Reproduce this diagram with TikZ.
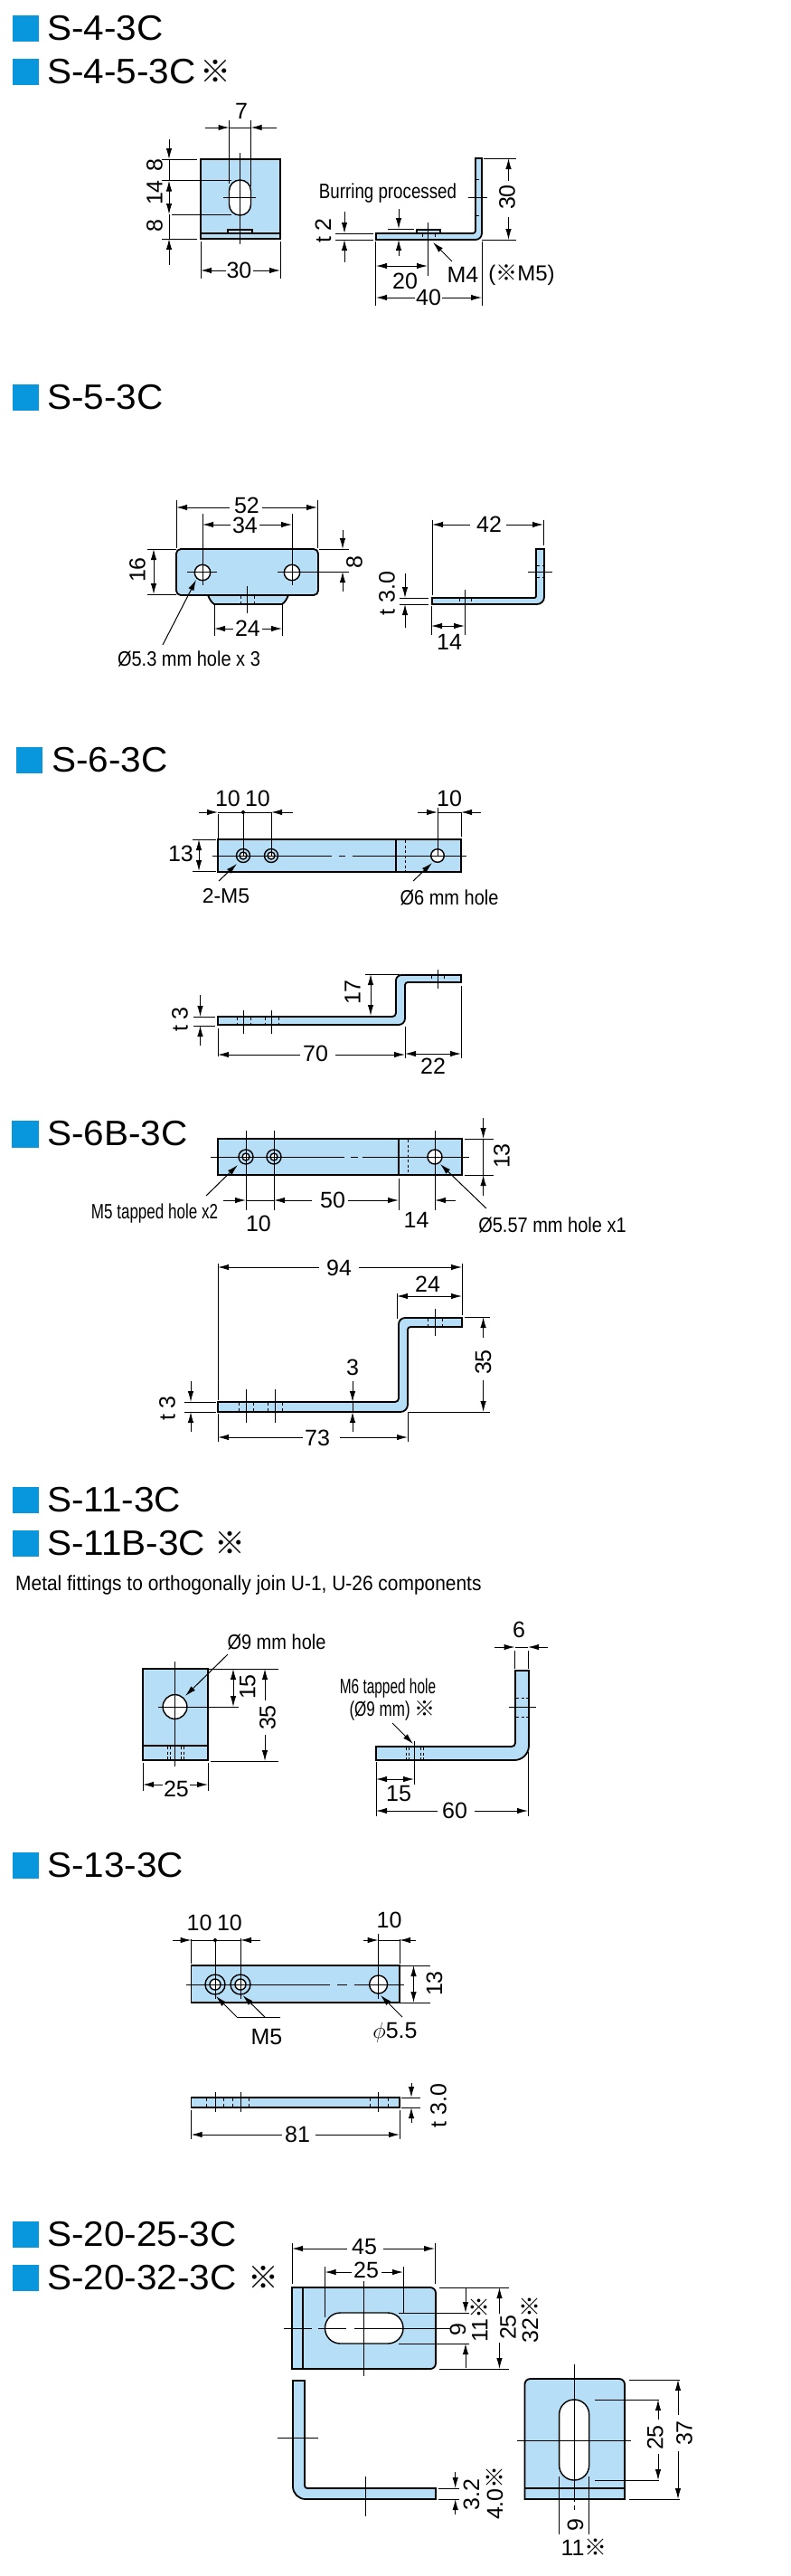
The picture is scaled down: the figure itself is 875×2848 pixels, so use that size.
\documentclass[tikz,border=0pt]{standalone}
\usepackage{fontspec}
\usetikzlibrary{arrows.meta}
\setmainfont{Liberation Sans}
\newfontfamily\headfont[FakeStretch=1.04]{Liberation Sans}
\newfontfamily\condfont[FakeStretch=0.87]{Liberation Sans}
\newfontfamily\burrfont[FakeStretch=0.815]{Liberation Sans}
\newfontfamily\tapfont[FakeStretch=0.74]{Liberation Sans}
\newfontfamily\sixfont[FakeStretch=0.67]{Liberation Sans}
\newfontfamily\wordfont[FakeStretch=0.91]{Liberation Sans}
\newfontfamily\kome{Noto Sans CJK SC}
\definecolor{headblue}{RGB}{8,150,220}
\definecolor{plateblue}{RGB}{182,222,246}
\tikzset{
  part/.style={draw=black, line width=1.8pt, fill=plateblue},
  hole/.style={draw=black, line width=1.4pt, fill=white},
  dim/.style={line width=1pt},
  hid/.style={line width=1pt, dash pattern=on 3pt off 2.5pt},
  headbox/.style={fill=headblue, draw=none},
  heading/.style={anchor=west, inner sep=0pt, font=\headfont\fontsize{39}{39}\selectfont},
  headmark/.style={inner sep=0pt, font=\kome\fontsize{34}{34}\selectfont},
  dimtext/.style={inner sep=0pt, font=\fontsize{25}{25}\selectfont},
  dimrot/.style={dimtext, rotate=90},
  note/.style={inner sep=0pt, font=\condfont\fontsize{23}{25}\selectfont, align=center},
  >={Latex[length=12pt,width=6.5pt]}
}
\begin{document}
\begin{tikzpicture}[x=1pt, y=-1pt]
\useasboundingbox (0,0) rectangle (875,2848);
\fill[white] (0,0) rectangle (875,2848);
% S-4-3C, S-4-5-3C
\fill[headbox] (13.5,16.7) rectangle (42.7,46);
\fill[headbox] (13.5,64.7) rectangle (42.7,94);
\node[heading] (ta) at (52,31) {S-4-3C};
\node[heading] (tb) at (52,79) {S-4-5-3C};
\node[headmark] (tbm) at (238,79) {※};
\draw[part] (222,176) rectangle (310,264);
\draw[part] (222,258) -- (310,258);
\draw[part] (252,254) rectangle (279,258);
\draw[hole, rounded corners=11.9pt] (253.5,199) rectangle (277.5,238);
\draw[dim] (265,169) -- (265,270);
\draw[dim] (247,218) -- (283,218);
\draw[dim] (253.5,133) -- (253.5,203);
\draw[dim] (277.5,133) -- (277.5,206);
\draw[dim,->] (227,141) -- (253.5,141);
\draw[dim,->] (306,141) -- (277.5,141);
\draw[dim] (253.5,141) -- (277.5,141);
\node[dimtext] (a7) at (267,123) {7};
\draw[dim] (179,176) -- (218,176);
\draw[dim] (179,199.5) -- (256,199.5);
\draw[dim] (190,237) -- (256,237);
\draw[dim] (179,264) -- (218,264);
\draw[dim,->] (187,154) -- (187,176);
\draw[dim,<->] (187,199.5) -- (187,237);
\draw[dim,->] (187,293) -- (187,264);
\draw[dim] (187,176) -- (187,199);
\draw[dim] (187,237) -- (187,264);
\node[dimrot] (a8) at (171,183) {8};
\node[dimrot] (a14) at (171,213) {14};
\node[dimrot] (a8b) at (171,250) {8};
\draw[dim] (222,267) -- (222,308);
\draw[dim] (310,267) -- (310,308);
\node[dimtext] (a30) at (264.5,299) {30};
\draw[dim,->] (a30) ++(-15,0) -- (222,299);
\draw[dim,->] (a30) ++(15,0) -- (310,299);
% side view
\draw[part] (461,254) rectangle (487,258);
\draw[part] (416,258) [rounded corners=3pt] -- (526,258) [sharp corners] -- (526,175) -- (533,175) [rounded corners=7pt] -- (533,265) [sharp corners] -- (416,265) -- cycle;
\draw[dim] (518,218) -- (539,218);
\draw[hid] (527,198) -- (532,198);
\draw[hid] (527,238) -- (532,238);
\draw[dim] (473,246) -- (473,305);
\draw[hid] (467,259) -- (467,264);
\draw[hid] (481,259) -- (481,264);
\draw[dim] (415,267) -- (415,338);
\draw[dim] (533,267) -- (533,338);
\draw[dim,<->] (416,294) -- (473,294);
\node[dimtext] (a20) at (448,311) {20};
\node[dimtext] (a40) at (474,329) {40};
\draw[dim,->] (a40) ++(-15,0) -- (416,329);
\draw[dim,->] (a40) ++(15,0) -- (533,329);
\draw[dim] (535,175) -- (571,175);
\draw[dim] (533,265) -- (571,265);
\node[dimrot] (a30b) at (561,218) {30};
\draw[dim,->] (562.5,200) -- (562.5,175);
\draw[dim,->] (562.5,240) -- (562.5,265);
\draw[dim] (371,258) -- (413,258);
\draw[dim] (371,265) -- (413,265);
\draw[dim,->] (381,234) -- (381,258);
\draw[dim,->] (381,290) -- (381,265);
\node[dimrot] (at2) at (357.5,255) {t 2};
\draw[dim] (429,253) -- (458,253);
\draw[dim,->] (441,231) -- (441,253);
\draw[dim,->] (441,283) -- (441,265);
\node[note, font=\burrfont\fontsize{23}{25}\selectfont] (aburr) at (429,214) {Burring processed};
\draw[dim,->] (500,289) -- (479,268);
\node[dimtext] (am4) at (512,304) {M4};
\node[dimtext, font=\fontsize{24}{24}\selectfont] (am5) at (577,304) {({\kome ※}M5)};
% S-5-3C
\fill[headbox] (13.5,424.7) rectangle (42.7,454);
\node[heading] (tc) at (52,439) {S-5-3C};
\draw[part] (230,658) .. controls (232,663) and (234,666) .. (237,668) -- (312,668) .. controls (315,666) and (317,663) .. (319,658) -- cycle;
\draw[part, rounded corners=5pt] (195,607) rectangle (352,658);
\draw[hole] (224,633) circle (8.7);
\draw[hole] (323,633) circle (8.7);
\draw[dim] (207,632) -- (240,632);
\draw[dim] (307,632) -- (340,632);
\draw[dim] (224,568) -- (224,647);
\draw[dim] (323,568) -- (323,647);
\draw[dim] (195,553) -- (195,606);
\draw[dim] (351,553) -- (351,606);
\node[dimtext] (b52) at (273,559) {52};
\draw[dim,->] (b52) ++(-19,2) -- (195,561);
\draw[dim,->] (b52) ++(17,2) -- (351,561);
\node[dimtext] (b34) at (271,581) {34};
\draw[dim,->] (b34) ++(-16,-1) -- (224,580);
\draw[dim,->] (b34) ++(16,-1) -- (323,580);
\draw[dim] (353,607) -- (386,607);
\draw[dim] (340,632) -- (386,632);
\draw[dim,->] (379,586) -- (379,607);
\draw[dim,->] (379,654) -- (379,632);
\node[dimrot] (b8) at (392,622) {8};
\draw[dim] (163,607) -- (195,607);
\draw[dim] (163,657) -- (195,657);
\draw[dim,<->] (170,607) -- (170,657);
\node[dimrot] (b16) at (152,630) {16};
\draw[dim] (237,668) -- (237,703);
\draw[dim] (312,668) -- (312,703);
\node[dimtext] (b24) at (274,695) {24};
\draw[dim,->] (b24) ++(-16,0) -- (237,695);
\draw[dim,->] (b24) ++(16,0) -- (312,695);
\draw[dim] (273,648) -- (273,678);
\draw[hid] (266.5,659) -- (266.5,667);
\draw[hid] (281,659) -- (281,667);
\draw[dim,->] (180,713) -- (217,641);
\node[note] (bhole) at (209,728) {Ø5.3 mm hole x 3};
% side view
\draw[part] (478,661) [rounded corners=2pt] -- (593,661) [sharp corners] -- (593,607) -- (602,607) [rounded corners=8pt] -- (602,668) [sharp corners] -- (478,668) -- cycle;
\draw[dim] (478,575) -- (478,658);
\draw[dim] (601,575) -- (601,603);
\node[dimtext] (b42) at (541,580) {42};
\draw[dim,->] (b42) ++(-21,0) -- (478,580);
\draw[dim,->] (b42) ++(19,0) -- (601,580);
\draw[dim] (584,632) -- (611,632);
\draw[hid] (594,625) -- (601,625);
\draw[hid] (594,638) -- (601,638);
\draw[dim] (514,652) -- (514,702);
\draw[dim] (477,670) -- (477,702);
\draw[hid] (508,662) -- (508,667);
\draw[hid] (521,662) -- (521,667);
\draw[dim,<->] (477,692) -- (514,692);
\node[dimtext] (b14) at (497,710) {14};
\draw[dim] (442,661) -- (474,661);
\draw[dim] (442,668) -- (474,668);
\draw[dim,->] (448,634) -- (448,661);
\draw[dim,->] (448,694) -- (448,668);
\node[dimrot] (bt3) at (428,656) {t 3.0};
% S-6-3C
\fill[headbox] (17.6,826) rectangle (46.7,855);
\node[heading] (td) at (57,840) {S-6-3C};
\draw[part] (241,928) rectangle (510,964);
\draw[part] (438,928) -- (438,964);
\draw[hid] (448,929) -- (448,963);
\draw[hole, fill=plateblue] (269,946) circle (7.5);
\draw[hole, fill=white] (269,946) circle (4);
\draw[hole, fill=plateblue] (300,946) circle (7.5);
\draw[hole, fill=white] (300,946) circle (4);
\draw[hole] (484,946) circle (7.3);
\draw[dim] (234.5,946) -- (367,946) (375,946) -- (382,946) (389.5,946) -- (516,946);
\draw[dim] (241,900) -- (241,928);
\draw[dim] (269,898) -- (269,946);
\draw[dim] (300,898) -- (300,946);
\draw[dim,->] (220,898) -- (241,898);
\draw[dim,->] (324,898) -- (300,898);
\draw[dim] (241,898) -- (300,898);
\fill (269,898) circle (2);
\node[dimtext] (d10a) at (252,883) {10};
\node[dimtext] (d10b) at (285,883) {10};
\draw[dim] (484,893) -- (484,946);
\draw[dim] (510,898) -- (510,925);
\draw[dim,->] (462,898) -- (484,898);
\draw[dim,->] (532,898) -- (510,898);
\draw[dim] (484,898) -- (510,898);
\node[dimtext] (d10c) at (497,883) {10};
\draw[dim] (213,928) -- (239,928);
\draw[dim] (213,963) -- (239,963);
\draw[dim,<->] (220,928) -- (220,963);
\node[dimtext] (d13) at (200,944) {13};
\draw[dim,->] (242,974) -- (262,955);
\node[dimtext, font=\fontsize{23}{23}\selectfont] (dm5) at (250,991) {2-M5};
\draw[dim,->] (457,974) -- (478,954);
\node[note] (dhole) at (497,992) {Ø6 mm hole};
% side view
\draw[part] (241,1124) [rounded corners=4pt] -- (438,1124) [rounded corners=6pt] -- (438,1078) [sharp corners] -- (510,1078) -- (510,1086) [rounded corners=3pt] -- (448,1086) [rounded corners=7pt] -- (448,1133) [sharp corners] -- (241,1133) -- cycle;
\draw[dim] (269,1117) -- (269,1143);
\draw[dim] (300,1117) -- (300,1143);
\foreach \hx in {262,277,293,308} {
  \draw[hid] (\hx,1125) -- (\hx,1132);
}
\draw[dim] (484,1072) -- (484,1093);
\draw[hid] (477,1079) -- (477,1085);
\draw[hid] (491,1079) -- (491,1085);
\draw[dim] (404,1077) -- (442,1077);
\draw[dim,<->] (410,1077) -- (410,1123);
\node[dimrot] (d17) at (390,1097) {17};
\draw[dim] (214,1124) -- (238,1124);
\draw[dim] (214,1134) -- (238,1134);
\draw[dim,->] (221.5,1100) -- (221.5,1124);
\draw[dim,->] (221.5,1156) -- (221.5,1134);
\node[dimrot] (dt3) at (199,1127) {t 3};
\draw[dim] (241,1137) -- (241,1168);
\draw[dim] (448,1135) -- (448,1170);
\draw[dim] (510,1090) -- (510,1170);
\node[dimtext] (d70) at (349,1165) {70};
\draw[dim,->] (332,1166) -- (241,1166);
\draw[dim,->] (371,1166) -- (448,1166);
\draw[dim,<->] (448,1165) -- (510,1165);
\node[dimtext] (d22) at (479,1179) {22};
% S-6B-3C
\fill[headbox] (13.4,1239) rectangle (43,1269);
\node[heading] (te) at (52,1253) {S-6B-3C};
\draw[part] (241,1259) rectangle (511,1299);
\draw[part] (441,1259) -- (441,1299);
\draw[hid] (451,1260) -- (451,1298);
\draw[hole, fill=plateblue] (272,1279) circle (8);
\draw[hole, fill=white] (272,1279) circle (4);
\draw[hole, fill=plateblue] (303,1279) circle (8);
\draw[hole, fill=white] (303,1279) circle (4);
\draw[hole] (481,1279) circle (8);
\draw[dim] (233,1279) -- (381,1279) (388,1279) -- (396,1279) (400.5,1279) -- (519,1279);
\draw[dim] (272,1250) -- (272,1338);
\draw[dim] (303,1250) -- (303,1338);
\draw[dim] (481,1250) -- (481,1338);
\draw[dim] (514,1259) -- (546,1259);
\draw[dim] (514,1299) -- (546,1299);
\draw[dim,->] (534.6,1236) -- (534.6,1259);
\draw[dim,->] (534.6,1322) -- (534.6,1299);
\draw[dim] (534.6,1259) -- (534.6,1299);
\node[dimrot] (e13) at (555,1278) {13};
\draw[dim,->] (247,1327) -- (272,1327);
\draw[dim,->] (345,1327) -- (303,1327);
\draw[dim] (272,1327) -- (303,1327);
\node[dimtext] (e50) at (368,1327) {50};
\draw[dim,->] (385,1327) -- (441,1327);
\draw[dim] (441,1303) -- (441,1338);
\draw[dim,->] (504,1327) -- (481,1327);
\node[dimtext] (e10) at (286,1353) {10};
\node[dimtext] (e14) at (460.6,1349) {14};
\node[note, font=\tapfont\fontsize{23}{25}\selectfont] (em5) at (171,1342) {M5 tapped hole x2};
\draw[dim,->] (228,1322) -- (263,1288);
\node[note] (ehole) at (611,1354) {Ø5.57 mm hole x1};
\draw[dim,->] (538,1336) -- (487,1287);
% side view
\draw[part] (241,1550) [rounded corners=4pt] -- (441,1550) [rounded corners=7pt] -- (441,1457) [sharp corners] -- (511,1457) -- (511,1467) [rounded corners=3pt] -- (451,1467) [rounded corners=8pt] -- (451,1561) [sharp corners] -- (241,1561) -- cycle;
\draw[dim] (241,1397) -- (241,1548);
\draw[dim] (511,1397) -- (511,1454);
\node[dimtext] (e94) at (375,1402) {94};
\draw[dim,->] (353,1401) -- (241,1401);
\draw[dim,->] (397,1401) -- (511,1401);
\draw[dim] (439,1430) -- (439,1458);
\draw[dim,<->] (439,1433) -- (511,1433);
\node[dimtext] (e24) at (473,1420) {24};
\draw[dim] (514,1456) -- (542,1456);
\draw[dim] (451,1561) -- (542,1561);
\node[dimrot] (e35) at (534.6,1506) {35};
\draw[dim,->] (534.6,1479) -- (534.6,1456);
\draw[dim,->] (534.6,1526) -- (534.6,1561);
\draw[dim,->] (390,1527) -- (390,1550);
\draw[dim,->] (390,1583) -- (390,1561);
\draw[dim] (390,1550) -- (390,1561);
\node[dimtext] (e3) at (390,1512) {3};
\draw[dim] (204,1550) -- (239,1550);
\draw[dim] (204,1561) -- (239,1561);
\draw[dim,->] (211,1527) -- (211,1550);
\draw[dim,->] (211,1583) -- (211,1561);
\node[dimrot] (et3) at (185,1557) {t 3};
\draw[dim] (241,1563) -- (241,1594);
\draw[dim] (451,1562) -- (451,1594);
\node[dimtext] (e73) at (351,1590) {73};
\draw[dim,->] (335,1589) -- (241,1589);
\draw[dim,->] (376,1589) -- (451,1589);
\draw[dim] (272,1536) -- (272,1573);
\draw[dim] (304,1536) -- (304,1573);
\foreach \hx in {264,280,296,312} {
  \draw[hid] (\hx,1551) -- (\hx,1560);
}
\draw[dim] (481,1447) -- (481,1477);
\draw[hid] (473,1458) -- (473,1466);
\draw[hid] (489,1458) -- (489,1466);
% S-11-3C, S-11B-3C
\fill[headbox] (13.5,1644) rectangle (42.7,1673);
\fill[headbox] (13.5,1692) rectangle (42.7,1721);
\node[heading] (tf) at (52,1658) {S-11-3C};
\node[heading] (tg) at (52,1706) {S-11B-3C};
\node[headmark] (tgm) at (254,1706) {※};
\node[note, anchor=west, font=\wordfont\fontsize{23}{25}\selectfont] (fnote) at (17,1753) {Metal fittings to orthogonally join U-1, U-26 components};
\draw[part] (158,1845) rectangle (230,1946);
\draw[part] (158,1930) -- (230,1930);
\foreach \hx in {185,188.6,200,203} {
  \draw[hid] (\hx,1931) -- (\hx,1945);
}
\draw[hole] (193.5,1887) circle (13.4);
\draw[dim] (193.5,1837) -- (193.5,1953);
\draw[dim] (175,1887) -- (264,1887);
\node[note] (fhole) at (306,1815) {Ø9 mm hole};
\draw[dim,->] (252,1829) -- (205,1875);
\draw[dim] (230,1845) -- (307.5,1845);
\draw[dim] (233,1947) -- (307.5,1947);
\draw[dim,<->] (258,1845) -- (258,1887);
\node[dimrot] (f15) at (274,1865) {15};
\node[dimrot] (f35) at (296,1899) {35};
\draw[dim,->] (293,1880) -- (293,1845);
\draw[dim,->] (293,1918) -- (293,1947);
\draw[dim] (158,1949) -- (158,1980);
\draw[dim] (230,1949) -- (230,1980);
\node[dimtext] (f25) at (195,1978) {25};
\draw[dim,->] (180,1973) -- (158,1973);
\draw[dim,->] (210,1973) -- (230,1973);
% side view
\draw[part] (416,1931) [rounded corners=4pt] -- (570,1931) [sharp corners] -- (570,1847) -- (585,1847) [rounded corners=16pt] -- (585,1946) [sharp corners] -- (416,1946) -- cycle;
\draw[dim] (569.5,1825) -- (569.5,1845);
\draw[dim] (584,1825) -- (584,1845);
\draw[dim,->] (547,1821) -- (569.5,1821);
\draw[dim,->] (606,1821) -- (584,1821);
\draw[dim] (569.5,1821) -- (584,1821);
\node[dimtext] (f6) at (574,1802) {6};
\draw[dim] (562.5,1887) -- (593,1887);
\draw[hid] (571,1877) -- (584,1877);
\draw[hid] (571,1898) -- (584,1898);
\draw[dim] (458,1925) -- (458,1973);
\foreach \hx in {449,452,465,468} {
  \draw[hid] (\hx,1932) -- (\hx,1945);
}
\node[note, font=\sixfont\fontsize{23}{25}\selectfont] (fm6) at (429,1867) {M6 tapped hole};
\node[note, font=\tapfont\fontsize{23}{25}\selectfont] (fm9) at (434,1891) {(Ø9 mm) {\kome ※}};
\draw[dim,->] (434,1905) -- (457,1928);
\draw[dim] (416,1948) -- (416,2008);
\draw[dim] (584,1937) -- (584,2008);
\draw[dim,<->] (416,1967) -- (458,1967);
\node[dimtext] (f15b) at (441,1983) {15};
\node[dimtext] (f60) at (503,2002) {60};
\draw[dim,->] (484,2002) -- (416,2002);
\draw[dim,->] (525,2002) -- (584,2002);
% S-13-3C
\fill[headbox] (13.5,2048) rectangle (42.7,2077);
\node[heading] (th) at (52,2062) {S-13-3C};
\draw[part] (211.5,2173) rectangle (442,2214);
\draw[hole, fill=plateblue] (238,2194) circle (11);
\draw[hole, fill=white] (238,2194) circle (6);
\draw[hole, fill=plateblue] (266,2194) circle (11);
\draw[hole, fill=white] (266,2194) circle (6);
\draw[hole] (418.6,2194) circle (10);
\draw[dim] (206,2194) -- (365,2194) (373,2194) -- (384,2194) (391.5,2194) -- (447,2194);
\draw[dim] (238,2145) -- (238,2210);
\draw[dim] (266,2143) -- (266,2210);
\draw[dim] (418.6,2138) -- (418.6,2210);
\draw[dim] (211.5,2144) -- (211.5,2171);
\draw[dim,->] (191,2145) -- (211.5,2145);
\draw[dim,->] (288,2145) -- (266,2145);
\draw[dim] (211.5,2145) -- (266,2145);
\fill (238,2145) circle (2);
\node[dimtext] (h10a) at (220.6,2126) {10};
\node[dimtext] (h10b) at (254,2126) {10};
\draw[dim] (442,2144) -- (442,2171);
\draw[dim,->] (402,2145) -- (418.6,2145);
\draw[dim,->] (460,2145) -- (442,2145);
\draw[dim] (418.6,2145) -- (442,2145);
\node[dimtext] (h10c) at (430.5,2123) {10};
\draw[dim] (443,2173) -- (475.6,2173);
\draw[dim] (443,2214) -- (475.6,2214);
\draw[dim,<->] (457.5,2173) -- (457.5,2214);
\node[dimrot] (h13) at (480.5,2193) {13};
\draw[dim] (310,2230) -- (262,2230);
\draw[dim,->] (262,2230) -- (239,2207);
\draw[dim,->] (293,2230) -- (268.5,2206);
\node[dimtext] (hm5) at (295,2252) {M5};
\draw[dim,->] (445,2230) -- (421,2206);
\node[dimtext] (hphi) at (437,2247) {$\phi$5.5};
% side view
\draw[part] (211.5,2319) rectangle (442,2330);
\foreach \hx in {238,266,418.6} {
  \draw[dim] (\hx,2313) -- (\hx,2335);
}
\foreach \hx in {228,247,257,275,409,429} {
  \draw[hid] (\hx,2320) -- (\hx,2329);
}
\draw[dim] (444,2319) -- (465,2319);
\draw[dim] (444,2330) -- (465,2330);
\draw[dim,->] (455,2303) -- (455,2319);
\draw[dim,->] (455,2347) -- (455,2330);
\node[dimrot] (ht3) at (485,2328) {t 3.0};
\draw[dim] (211.5,2333) -- (211.5,2365);
\draw[dim] (442,2333) -- (442,2365);
\node[dimtext] (h81) at (329,2360) {81};
\draw[dim,->] (311.6,2360) -- (211.5,2360);
\draw[dim,->] (348.5,2360) -- (442,2360);
% S-20-25-3C, S-20-32-3C
\fill[headbox] (13.5,2456) rectangle (42.6,2485);
\fill[headbox] (13.5,2504) rectangle (42.6,2533);
\node[heading] (ti) at (52,2470) {S-20-25-3C};
\node[heading] (tj) at (52,2518) {S-20-32-3C};
\node[headmark] (tjm) at (291,2518) {※};
\draw[part] (323,2529) [rounded corners=6pt] -- (482,2529) -- (482,2619) [sharp corners] -- (323,2619) -- cycle;
\draw[part] (335,2529) -- (335,2619);
\draw[hole, rounded corners=16.9pt] (359.5,2557) rectangle (446,2591);
\draw[dim] (402,2522) -- (402,2627);
\draw[dim] (314,2574) -- (345,2574) (352,2574) -- (383,2574) (391.5,2574) -- (499,2574);
\draw[dim] (323,2480) -- (323,2525);
\draw[dim] (481,2480) -- (481,2525);
\node[dimtext] (i45) at (403,2484) {45};
\draw[dim,->] (384,2486) -- (323,2486);
\draw[dim,->] (423.5,2486) -- (481,2486);
\draw[dim] (359.5,2506) -- (359.5,2562);
\draw[dim] (446,2506) -- (446,2557);
\node[dimtext] (i25) at (405,2510) {25};
\draw[dim,->] (389,2512) -- (359.5,2512);
\draw[dim,->] (422,2512) -- (446,2512);
\draw[dim] (486,2529) -- (562.6,2529);
\draw[dim] (486,2619) -- (562.6,2619);
\draw[dim] (441,2557) -- (519,2557);
\draw[dim] (441,2591) -- (519,2591);
\draw[dim,->] (515,2530) -- (515,2557);
\draw[dim,->] (515,2618) -- (515,2591);
\node[dimrot] (i9) at (506.5,2576) {9};
\node[dimrot] (i11) at (530,2564) {11{\kome ※}};
\draw[dim,->] (552.5,2558) -- (552.5,2529);
\draw[dim,->] (552.5,2590) -- (552.5,2619);
\node[dimrot] (i25b) at (562,2573) {25};
\node[dimrot] (i32) at (586,2564) {32{\kome ※}};
% side view
\draw[part] (324,2632) -- (337,2632) [rounded corners=3pt] -- (337,2751) [sharp corners] -- (482,2751) -- (482,2763) [rounded corners=14pt] -- (324,2763) [sharp corners] -- cycle;
\draw[dim] (307,2695) -- (352,2695);
\draw[dim] (404,2738) -- (404,2782);
\draw[dim] (485,2751) -- (507.6,2751);
\draw[dim] (485,2763) -- (507.6,2763);
\draw[dim,->] (503.7,2733) -- (503.7,2751);
\draw[dim,->] (503.7,2780) -- (503.7,2763);
\node[dimrot] (i32b) at (521.6,2758) {3.2};
\node[dimrot] (i40) at (547,2756) {4.0{\kome ※}};
% end view
\draw[part] (580.5,2763) [rounded corners=6pt] -- (580.5,2630) -- (691,2630) [sharp corners] -- (691,2763) -- cycle;
\draw[part] (580.5,2751) -- (691,2751);
\draw[hole, rounded corners=16.4pt] (618.6,2653) rectangle (651.7,2742);
\draw[dim] (635.5,2614) -- (635.5,2766) (635.5,2770) -- (635.5,2775);
\draw[dim] (572,2698) -- (698,2698);
\draw[dim] (618.6,2738) -- (618.6,2802);
\draw[dim] (651.7,2738) -- (651.7,2802);
\draw[dim] (658,2653) -- (729,2653);
\draw[dim] (658,2742) -- (729,2742);
\draw[dim,->] (728,2675) -- (728,2653);
\draw[dim,->] (728,2713) -- (728,2742);
\node[dimrot] (k25) at (724.7,2695) {25};
\draw[dim] (695.5,2631) -- (751.6,2631);
\draw[dim] (695.5,2763) -- (751.6,2763);
\draw[dim,->] (750,2670) -- (750,2631);
\draw[dim,->] (750,2710) -- (750,2763);
\node[dimrot] (k37) at (757,2690) {37};
\node[dimrot] (k9) at (636.6,2792) {9};
\node[dimtext] (k11) at (646,2816) {11{\kome ※}};
\end{tikzpicture}
\end{document}
